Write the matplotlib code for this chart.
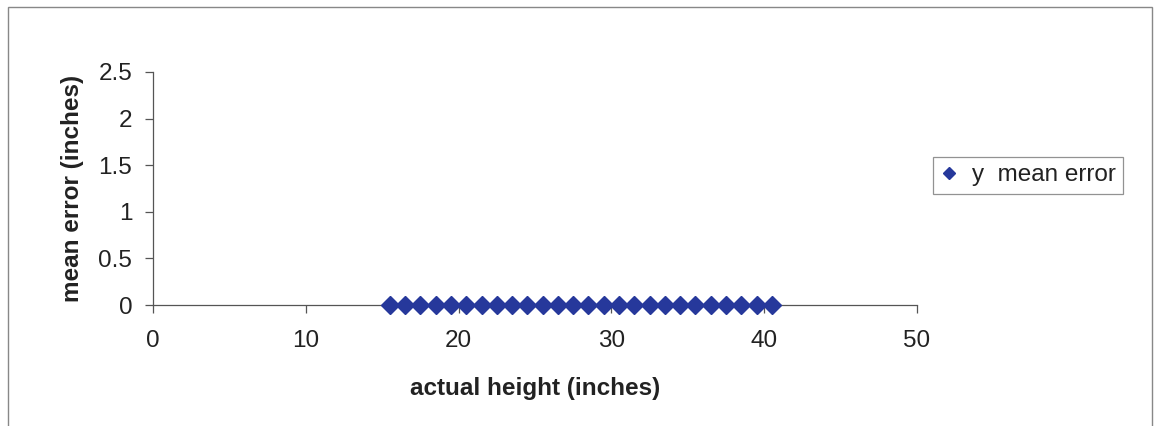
import numpy as np
import matplotlib
matplotlib.use('Agg')
import matplotlib.pyplot as plt
from matplotlib.patches import Rectangle

plt.rcParams['font.family'] = ['Liberation Sans', 'DejaVu Sans']

# Measured heights and the mean error at each
heights = [15.5, 16.5, 17.5, 18.5, 19.5, 20.5, 21.5, 22.5, 23.5, 24.5, 25.5, 26.5, 27.5,
           28.5, 29.5, 30.5, 31.5, 32.5, 33.5, 34.5, 35.5, 36.5, 37.5, 38.5, 39.5, 40.5]
mean_error = [0.0] * len(heights)

x_ticks = [0, 10, 20, 30, 40, 50]
y_ticks = [0, 0.5, 1, 1.5, 2, 2.5]
y_tick_labels = ['0', '0.5', '1', '1.5', '2', '2.5']

W, H = 1156, 426
fig = plt.figure(figsize=(W / 100, H / 100), dpi=100)
ax = fig.add_axes([153 / W, (H - 305) / H, (917 - 153) / W, (305 - 72) / H])

ax.plot(heights, mean_error, linestyle='none', marker='D', markersize=9.5,
        color='#26389b', clip_on=False, zorder=3, label='y  mean error')

ax.set_xlim(0, 50)
ax.set_ylim(0, 2.5)
ax.set_xticks(x_ticks)
ax.set_yticks(y_ticks)
ax.set_yticklabels(y_tick_labels)
for side in ('top', 'right'):
    ax.spines[side].set_visible(False)
for side in ('left', 'bottom'):
    ax.spines[side].set_color('#555555')
    ax.spines[side].set_linewidth(0.9)
ax.tick_params(direction='out', length=6, width=0.9, color='#555555',
               labelsize=17.5, labelcolor='#222222')
ax.tick_params(axis='x', pad=12)
ax.tick_params(axis='y', pad=9)

ax.set_xlabel('actual height (inches)', fontsize=17.5, fontweight='bold',
              color='#222222', labelpad=18)
ax.set_ylabel('mean error (inches)', fontsize=17.5, fontweight='bold',
              color='#222222', labelpad=10)

leg = fig.legend(loc='upper left', bbox_to_anchor=(933 / W, 1 - 157 / H),
                 fontsize=17.5, frameon=True, fancybox=False, handlelength=0.7,
                 handletextpad=0.6, borderpad=0.3, markerscale=0.65,
                 borderaxespad=0, labelcolor='#222222')
leg.get_frame().set_edgecolor('#777777')
leg.get_frame().set_linewidth(0.9)

# Outer chart border (runs off the bottom edge)
fig.patches.append(Rectangle((8 / W, -10 / H), (1152 - 8) / W, (419 + 10) / H,
                             transform=fig.transFigure, fill=False,
                             edgecolor='#888888', linewidth=1.0))

fig.savefig('out.png', dpi=100)
